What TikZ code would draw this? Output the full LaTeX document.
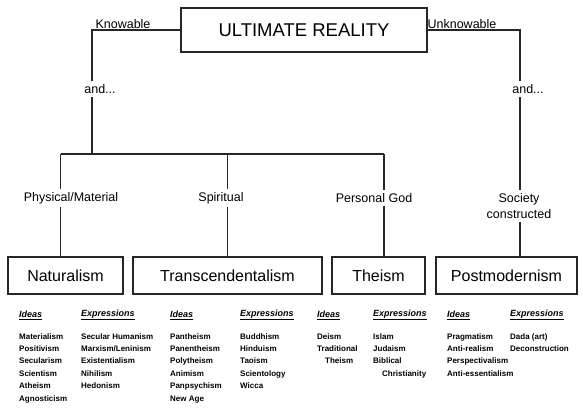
\documentclass[tikz,border=0pt]{standalone}
\usepackage{fontspec}
\setmainfont{Liberation Sans}
\begin{document}
\begin{tikzpicture}[x=1pt,y=-1pt,
  ln/.style={line width=1.3pt, black!85},
  bx/.style={draw=black!85, line width=1.3pt, minimum height=37pt, inner sep=0pt, font=\fontsize{16}{16}\selectfont},
  lbl/.style={font=\fontsize{12.5}{16}\selectfont, inner sep=3pt, align=center},
  hd/.style={font=\fontsize{9}{10}\selectfont\bfseries\itshape, anchor=west, inner sep=0pt},
  lst/.style={font=\fontsize{8}{12.4}\selectfont\bfseries, anchor=north west, align=left, inner sep=0pt}]
\useasboundingbox (0,0) rectangle (583,409);
% top
\node[draw=black!85, line width=1.3pt, minimum width=246pt, minimum height=44pt, inner sep=0pt,
      font=\fontsize{18.5}{20}\selectfont] (ur) at (304,30) {ULTIMATE REALITY};
\node[lbl, anchor=south, inner sep=1pt] (kn) at (123,30) {Knowable};
\node[lbl, anchor=south, inner sep=1pt] (ukn) at (462,30) {Unknowable};
\coordinate (kc) at (92,30);
\coordinate (uc) at (520,30);
\node[lbl] (and1) at (100,89) {and...};
\node[lbl] (and2) at (528,89) {and...};
% level labels
\node[lbl] (pm) at (71,198) {Physical/Material};
\node[lbl] (sp) at (221,198) {Spiritual};
\node[lbl] (pg) at (374,198) {Personal God};
\node[lbl] (sc) at (519,206) {Society\\constructed};
% boxes
\node[bx, minimum width=115pt] (nat) at (65.5,275.5) {Naturalism};
\node[bx, minimum width=189pt] (tra) at (227.5,275.5) {Transcendentalism};
\node[bx, minimum width=93pt] (the) at (378.5,275.5) {Theism};
\node[bx, minimum width=141pt] (pmo) at (506.5,275.5) {Postmodernism};
% bar
\coordinate (bl) at (60.5,154);
\coordinate (bs) at (227.5,154);
\coordinate (br) at (384,154);
% connectors
\draw[ln] (ur.west) -- (kc) -- (kc |- and1.north);
\draw[ln] (kc |- and1.south) -- (kc |- bl);
\draw[ln] (bl) -- (br);
\draw[ln] (bl) -- (bl |- pm.north);
\draw[ln] (bl |- pm.south) -- (bl |- nat.north);
\draw[ln] (bs) -- (bs |- sp.north);
\draw[ln] (bs |- sp.south) -- (bs |- tra.north);
\draw[ln] (br) -- (br |- pg.north);
\draw[ln] (br |- pg.south) -- (br |- the.north);
\draw[ln] (ur.east) -- (uc) -- (uc |- and2.north);
\draw[ln] (uc |- and2.south) -- (uc |- sc.north);
\draw[ln] (uc |- sc.south) -- (uc |- pmo.north);
% lists
\node[hd] (h1) at (19,315) {\underline{Ideas}};
\node[hd] (h2) at (81,315) {\underline{Expressions}};
\node[hd] (h3) at (170,315) {\underline{Ideas}};
\node[hd] (h4) at (240,315) {\underline{Expressions}};
\node[hd] (h5) at (317,315) {\underline{Ideas}};
\node[hd] (h6) at (373,315) {\underline{Expressions}};
\node[hd] (h7) at (447,315) {\underline{Ideas}};
\node[hd] (h8) at (510,315) {\underline{Expressions}};
\node[lst] (l1) at (19,333) {Materialism\\Positivism\\Secularism\\Scientism\\Atheism\\Agnosticism};
\node[lst] (l2) at (81,333) {Secular Humanism\\Marxism/Leninism\\Existentialism\\Nihilism\\Hedonism};
\node[lst] (l3) at (170,333) {Pantheism\\Panentheism\\Polytheism\\Animism\\Panpsychism\\New Age};
\node[lst] (l4) at (240,333) {Buddhism\\Hinduism\\Taoism\\Scientology\\Wicca};
\node[lst] (l5) at (317,333) {Deism\\Traditional\\\hspace*{8pt}Theism};
\node[lst] (l6) at (373,333) {Islam\\Judaism\\Biblical\\\hspace*{9pt}Christianity};
\node[lst] (l7) at (447,333) {Pragmatism\\Anti-realism\\Perspectivalism\\Anti-essentialism};
\node[lst] (l8) at (510,333) {Dada (art)\\Deconstruction};
\end{tikzpicture}
\end{document}
